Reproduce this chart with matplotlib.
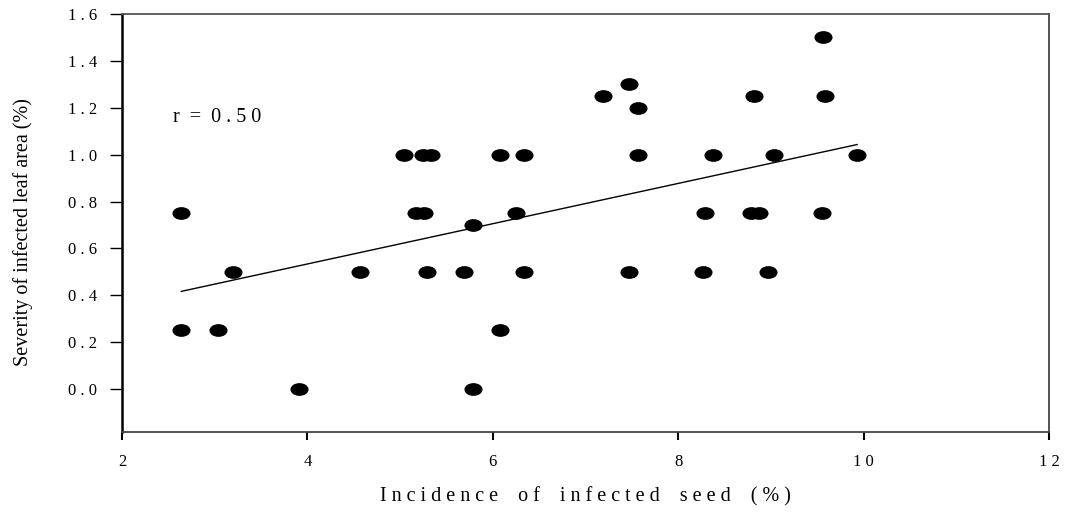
import numpy as np
import matplotlib
matplotlib.use("Agg")
import matplotlib.pyplot as plt
from matplotlib.path import Path

# seed incidence (%) vs. leaf area severity (%)
incidence = [2.64, 2.64, 3.04, 3.20, 3.91, 4.57, 5.04, 5.17, 5.26, 5.25, 5.33,
             5.29, 5.69, 5.79, 5.79, 6.08, 6.08, 6.25, 6.34, 6.34, 7.19, 7.47,
             7.47, 7.57, 7.57, 8.27, 8.29, 8.38, 8.82, 8.79, 8.87, 8.97, 9.03,
             9.56, 9.55, 9.58, 9.93]
severity = [0.75, 0.25, 0.25, 0.50, 0.00, 0.50, 1.00, 0.75, 0.75, 1.00, 1.00,
            0.50, 0.50, 0.70, 0.00, 1.00, 0.25, 0.75, 1.00, 0.50, 1.25, 1.30,
            0.50, 1.20, 1.00, 0.50, 0.75, 1.00, 1.25, 0.75, 0.75, 0.50, 1.00,
            1.50, 0.75, 1.25, 1.00]

# fitted line
fit_slope = 0.0859
fit_intercept = 0.190
r_value = 0.50

x_ticks = [2, 4, 6, 8, 10, 12]
y_ticks = [0.0, 0.2, 0.4, 0.6, 0.8, 1.0, 1.2, 1.4, 1.6]


def spaced(s):
    return " ".join(s)


plt.rcParams["font.family"] = ["Liberation Serif", "DejaVu Serif"]

fig = plt.figure(figsize=(10.68, 5.12), dpi=100)
ax = fig.add_axes([0.1142, 0.15625, 0.868, 0.8165])

# flattened dot marker
circ = Path.unit_circle()
oval = Path(circ.vertices * np.array([1.0, 0.68]), circ.codes)

ax.plot(incidence, severity, linestyle="none", marker=oval, markersize=12,
        color="black")

xs = np.array([min(incidence), max(incidence)])
ax.plot(xs, fit_intercept + fit_slope * xs, color="black", lw=1.0)

ax.text(2.55, 1.16, "r  =  " + spaced(f"{r_value:.2f}"), fontsize=14.5,
        va="center", ha="left")

ax.set_xlim(2, 12)
ax.set_ylim(-0.183, 1.6)
ax.set_xticks(x_ticks)
ax.set_xticklabels([spaced(str(t)) for t in x_ticks])
ax.set_yticks(y_ticks)
ax.set_yticklabels([spaced(f"{t:.1f}") for t in y_ticks])
ax.tick_params(axis="y", direction="out", length=9, width=1.0, pad=9,
               labelsize=12)
ax.tick_params(axis="x", direction="out", length=6, width=1.5, pad=10,
               labelsize=12)

ax.spines["left"].set_linewidth(1.8)
ax.spines["left"].set_color("black")
ax.spines["bottom"].set_linewidth(1.3)
ax.spines["bottom"].set_color("#444444")
ax.spines["top"].set_linewidth(1.3)
ax.spines["top"].set_color("#555555")
ax.spines["right"].set_linewidth(1.3)
ax.spines["right"].set_color("#444444")

ax.set_xlabel(spaced("Incidence of infected seed (%)").replace("   ", "    "),
              fontsize=14.5, labelpad=12)
ax.set_ylabel("Severity of infected leaf area (%)", fontsize=14.5)
ax.yaxis.set_label_coords(-0.096, 0.478)

fig.savefig("out.png", dpi=100)
